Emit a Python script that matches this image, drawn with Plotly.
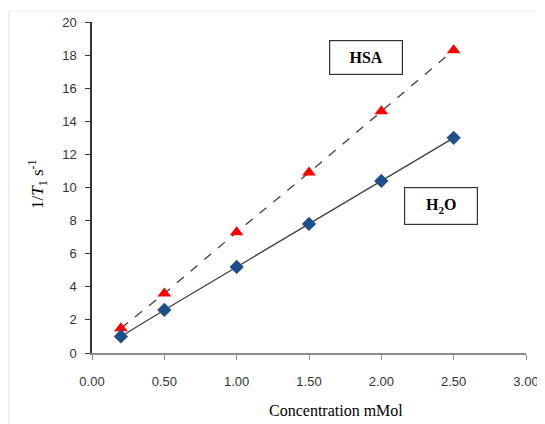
import plotly.graph_objects as go

conc = [0.2, 0.5, 1.0, 1.5, 2.0, 2.5]
h2o = [1.0, 2.6, 5.2, 7.8, 10.4, 13.0]
hsa = [1.5, 3.6, 7.3, 10.9, 14.6, 18.3]
x_ticks = [0, 0.5, 1.0, 1.5, 2.0, 2.5, 3.0]
x_tick_text = ["0.00", "0.50", "1.00", "1.50", "2.00", "2.50", "3.00"]
y_ticks = [0, 2, 4, 6, 8, 10, 12, 14, 16, 18, 20]

fig = go.Figure()
fig.add_trace(go.Scatter(x=conc, y=hsa, mode="lines+markers", name="HSA",
                         line=dict(color="#404040", width=1.3, dash="dash"),
                         marker=dict(symbol="triangle-up", size=12, color="#FF0000")))
fig.add_trace(go.Scatter(x=conc, y=h2o, mode="lines+markers", name="H2O",
                         line=dict(color="#404040", width=1.3),
                         marker=dict(symbol="diamond", size=11, color="#1F4E8C")))

# page body has an 8px margin; work in screenshot pixels and convert
OFF = 8
W, H = 545 - OFF, 424 - OFF
ml, mr, mt, mb = 92 - OFF, 19, 22 - OFF, 424 - 353
pw, ph = W - ml - mr, H - mt - mb

def px(xs):
    return (xs - OFF - ml) / pw

def py(ys):
    return 1 - (ys - OFF - mt) / ph

serif = "Liberation Serif"
sans = "Liberation Sans"

def box(text, cx, cy):
    return dict(text=text, xref="paper", yref="paper", x=px(cx), y=py(cy),
                xanchor="center", yanchor="middle", showarrow=False,
                font=dict(family=serif, size=16, color="black"),
                bordercolor="#333333", borderwidth=1.2, borderpad=8, bgcolor="white",
                width=56)

fig.update_layout(
    width=W, height=H,
    margin=dict(l=ml, r=mr, t=mt, b=mb, autoexpand=False),
    plot_bgcolor="white", paper_bgcolor="white",
    showlegend=False,
    font=dict(family=serif),
    xaxis=dict(range=[0, 3], tickvals=x_ticks, ticktext=x_tick_text,
               showgrid=False, zeroline=False, showline=True,
               linecolor="#8c8c8c", linewidth=1.5, ticks="outside", ticklen=5,
               tickcolor="#8c8c8c", ticklabelstandoff=11,
               tickfont=dict(family=sans, size=13, color="#333333")),
    yaxis=dict(range=[0, 20], tickvals=y_ticks, showgrid=False, zeroline=False,
               showline=True, linecolor="#333333", linewidth=1.5, ticks="outside",
               ticklen=5, tickcolor="#333333", ticklabelstandoff=6,
               tickfont=dict(family=sans, size=13, color="#333333")),
    shapes=[
        dict(type="line", xref="paper", yref="paper", x0=px(9), x1=px(9), y0=py(11), y1=py(424),
             line=dict(color="#dddddd", width=1)),
        dict(type="line", xref="paper", yref="paper", x0=px(9), x1=px(545), y0=py(11), y1=py(11),
             line=dict(color="#eeeeee", width=1)),
    ],
    annotations=[
        box("<b>HSA</b>", 366, 58),
        box("<b>H<sub>2</sub>O</b>", 441, 206),
        dict(text="Concentration mMol", xref="paper", yref="paper", x=px(336), y=py(410),
             xanchor="center", yanchor="middle",
             showarrow=False, font=dict(family=serif, size=16, color="black")),
        dict(text="1/<i>T</i><sub>1</sub> s<sup>-1</sup>", xref="paper", yref="paper",
             x=px(37), y=py(185), xanchor="center", yanchor="middle", textangle=-90,
             showarrow=False, font=dict(family=serif, size=17, color="black")),
    ],
)

fig.write_html("out.html")
